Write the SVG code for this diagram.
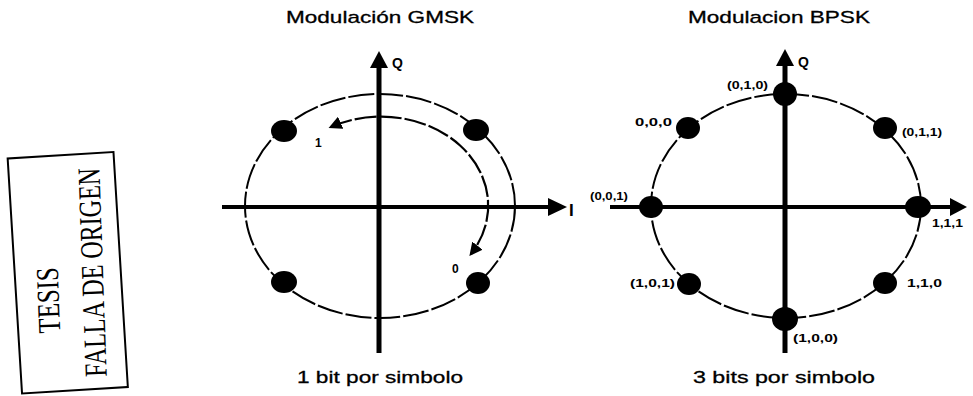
<svg xmlns="http://www.w3.org/2000/svg" width="973" height="396" viewBox="0 0 973 396">
<style>
.title{font-family:"Liberation Sans",Arial,sans-serif;font-size:17px;fill:#000;text-anchor:middle;stroke:#000;stroke-width:0.3}
.lbl{font-family:"Liberation Sans",Arial,sans-serif;font-size:10px;font-weight:bold;fill:#000}
.ax{stroke:#000;fill:none}
.ring{stroke:#000;stroke-width:2;fill:none;stroke-dasharray:26 3}
.dot{fill:#000}
.stamp{font-family:"Liberation Serif","Times New Roman",serif;fill:#000;font-size:32px}
</style>
<defs>
<marker id="ah" viewBox="0 0 10 10" refX="8" refY="5" markerWidth="6" markerHeight="6" orient="auto-start-reverse" markerUnits="strokeWidth">
<path d="M0,0 L10,5 L0,10 z" fill="#000"/>
</marker>
</defs>
<rect width="973" height="396" fill="#fff"/>

<!-- Stamp -->
<g id="stamp">
<rect x="14.75" y="155" width="106" height="235.5" fill="none" stroke="#000" stroke-width="2" transform="rotate(-3.5 67.75 272.75)"/>
<text class="stamp" text-anchor="middle" textLength="209" lengthAdjust="spacingAndGlyphs" transform="translate(103 272) rotate(-92)">FALLA DE ORIGEN</text>
<text class="stamp" text-anchor="middle" textLength="66" lengthAdjust="spacingAndGlyphs" transform="translate(59 300) rotate(-92)">TESIS</text>
</g>

<!-- Left: GMSK -->
<text class="title" x="380" y="23" textLength="188" lengthAdjust="spacingAndGlyphs">Modulación GMSK</text>
<text class="title" x="380" y="383" textLength="166" lengthAdjust="spacingAndGlyphs">1 bit por simbolo</text>

<g id="gmsk-ring"><ellipse class="ring" cx="380" cy="206" rx="135" ry="112"/></g>
<g id="gmsk-axes">
<line class="ax" x1="222" y1="207" x2="550" y2="207" stroke-width="4"/>
<polygon points="548,198 567,207 548,216" fill="#000"/>
<line class="ax" x1="379" y1="353" x2="379" y2="66" stroke-width="5"/>
<polygon points="370,68 379,51 388,68" fill="#000"/>
<text class="lbl" x="392" y="68" style="font-size:14px">Q</text>
<text class="lbl" x="569" y="216" style="font-size:17px">I</text>
</g>
<g id="gmsk-dots">
<g id="g-ul"><ellipse class="dot" cx="284" cy="131" rx="13" ry="11"/></g>
<g id="g-ur"><ellipse class="dot" cx="476" cy="130" rx="13" ry="11"/></g>
<g id="g-ll"><ellipse class="dot" cx="284" cy="282" rx="13" ry="11"/></g>
<g id="g-lr"><ellipse class="dot" cx="478" cy="283" rx="12" ry="11"/></g>
</g>
<g id="connectors">
<path d="M331,127 A107,89 0 0 1 471,254" stroke="#000" stroke-width="2.2" fill="none" stroke-dasharray="22 3" marker-start="url(#ah)" marker-end="url(#ah)"/>
</g>
<text class="lbl" x="315" y="147" style="font-size:12px">1</text>
<text class="lbl" x="452" y="273" style="font-size:12px">0</text>

<!-- Right: BPSK -->
<text class="title" x="779" y="23" textLength="182" lengthAdjust="spacingAndGlyphs">Modulacion BPSK</text>
<text class="title" x="784" y="383" textLength="182" lengthAdjust="spacingAndGlyphs">3 bits por simbolo</text>

<g id="bpsk-ring"><ellipse class="ring" cx="786" cy="206" rx="135" ry="112"/></g>
<g id="bpsk-axes">
<line class="ax" x1="610" y1="207" x2="952" y2="207" stroke-width="4"/>
<polygon points="950,198 967,207 950,216" fill="#000"/>
<line class="ax" x1="785" y1="353" x2="785" y2="64" stroke-width="5"/>
<polygon points="776,66 785,49 794,66" fill="#000"/>
<text class="lbl" x="798" y="67" style="font-size:14px">Q</text>
</g>
<g id="bpsk-dots">
<g id="b-010"><ellipse class="dot" cx="785" cy="94" rx="12" ry="12"/></g>
<g id="b-000"><ellipse class="dot" cx="688" cy="128" rx="12" ry="11"/></g>
<g id="b-011"><ellipse class="dot" cx="885" cy="128" rx="12" ry="11"/></g>
<g id="b-001"><ellipse class="dot" cx="651" cy="207" rx="12" ry="11"/></g>
<g id="b-111"><ellipse class="dot" cx="918" cy="207" rx="13" ry="11"/></g>
<g id="b-101"><ellipse class="dot" cx="689" cy="284" rx="12" ry="11"/></g>
<g id="b-110"><ellipse class="dot" cx="885" cy="283" rx="12" ry="11"/></g>
<g id="b-100"><ellipse class="dot" cx="785" cy="319" rx="13" ry="12"/></g>
</g>
<text class="lbl" x="727" y="89" textLength="41" lengthAdjust="spacingAndGlyphs">(0,1,0)</text>
<text class="lbl" x="635" y="126" textLength="37" lengthAdjust="spacingAndGlyphs">0,0,0</text>
<text class="lbl" x="902" y="136" textLength="40" lengthAdjust="spacingAndGlyphs">(0,1,1)</text>
<text class="lbl" x="590" y="200" textLength="38" lengthAdjust="spacingAndGlyphs">(0,0,1)</text>
<text class="lbl" x="932" y="227" textLength="31" lengthAdjust="spacingAndGlyphs">1,1,1</text>
<text class="lbl" x="630" y="287" textLength="45" lengthAdjust="spacingAndGlyphs">(1,0,1)</text>
<text class="lbl" x="907" y="287" textLength="35" lengthAdjust="spacingAndGlyphs">1,1,0</text>
<text class="lbl" x="793" y="342" textLength="45" lengthAdjust="spacingAndGlyphs">(1,0,0)</text>
</svg>
